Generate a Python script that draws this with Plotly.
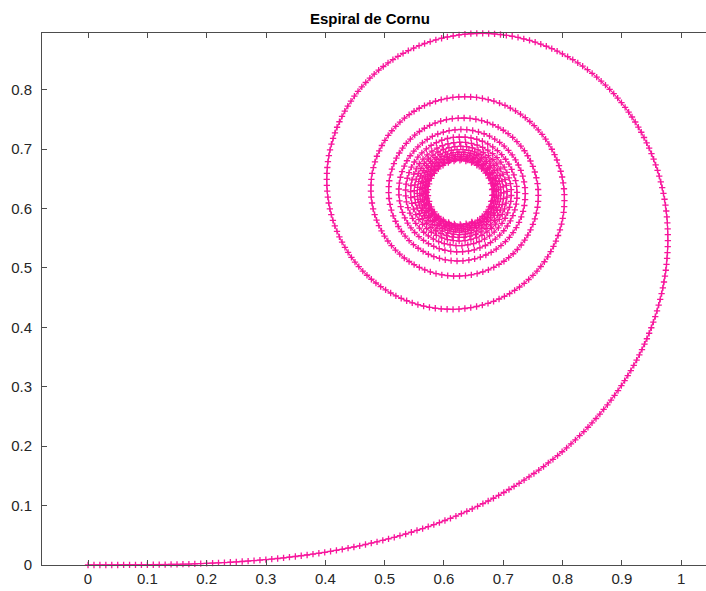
import numpy as np
import plotly.graph_objects as go

# Cornu (Euler) spiral: x(t) = ∫0^t cos(s^2) ds, y(t) = ∫0^t sin(s^2) ds
t_start = 0.0
t_end = 9.4
t_step = 0.01
fine_factor = 20  # sub-steps per sample for the numerical integration

x_ticks = [0, 0.1, 0.2, 0.3, 0.4, 0.5, 0.6, 0.7, 0.8, 0.9, 1]
y_ticks = [0, 0.1, 0.2, 0.3, 0.4, 0.5, 0.6, 0.7, 0.8]
title_text = "Espiral de Cornu"
curve_color = "#f7169c"

# cumulative trapezoid integration on a fine grid, then sampled every t_step
n_samples = int(round((t_end - t_start) / t_step)) + 1
s = np.linspace(t_start, t_end, (n_samples - 1) * fine_factor + 1)
ds = s[1] - s[0]
c = np.cos(s ** 2)
si = np.sin(s ** 2)
cx = np.concatenate([[0.0], np.cumsum((c[1:] + c[:-1]) * ds / 2)])
cy = np.concatenate([[0.0], np.cumsum((si[1:] + si[:-1]) * ds / 2)])
x = cx[::fine_factor]
y = cy[::fine_factor]

fig = go.Figure(
    go.Scatter(
        x=x, y=y, mode="lines+markers",
        line=dict(color=curve_color, width=1.1),
        marker=dict(symbol="cross-thin", size=4.5, line=dict(color=curve_color, width=1.3)),
        cliponaxis=False,
        hoverinfo="skip",
    )
)

axis_color = "#4d4d4d"
font_color = "#262626"
fig.update_layout(
    width=706, height=591,
    margin=dict(l=42, r=0, t=33, b=26),
    paper_bgcolor="white", plot_bgcolor="white",
    showlegend=False,
    font=dict(family="Liberation Sans, Arial, Helvetica, sans-serif", size=15, color=font_color),
    title=dict(text="<b>" + title_text + "</b>", x=0.524, xref="container", xanchor="center",
               y=1 - 19 / 591, yref="container", yanchor="middle",
               font=dict(size=15, color="black")),
)
fig.update_xaxes(
    range=[-0.0776, 1.0417], tickvals=x_ticks, ticktext=[f"{v:g}" for v in x_ticks],
    showgrid=False, zeroline=False, showline=True, linecolor=axis_color, linewidth=1,
    mirror="ticks", ticks="inside", ticklen=5, tickcolor=axis_color,
)
fig.update_yaxes(
    range=[0, 0.8955], tickvals=y_ticks, ticktext=[f"{v:g}" for v in y_ticks],
    showgrid=False, zeroline=False, showline=True, linecolor=axis_color, linewidth=1,
    mirror=False, ticks="inside", ticklen=5, tickcolor=axis_color, ticklabelstandoff=6,
)

fig.write_html("out.html")
